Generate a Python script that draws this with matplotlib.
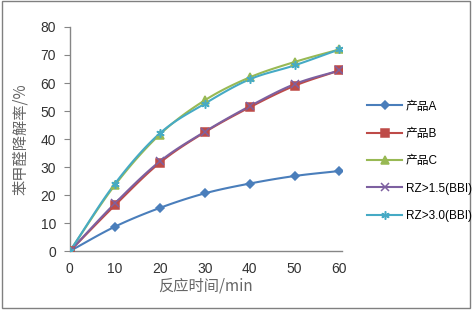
import numpy as np
import matplotlib
matplotlib.use("Agg")
import matplotlib.pyplot as plt
from matplotlib.lines import Line2D

plt.rcParams['font.family'] = ['Noto Sans CJK SC', 'DejaVu Sans']

# data
time_min = [0, 10, 20, 30, 40, 50, 60]
prod_a = [0, 8.7, 15.4, 20.6, 24.1, 26.8, 28.6]
prod_b = [0, 16.3, 31.5, 42.4, 51.3, 59.0, 64.5]
prod_c = [0, 23.5, 41.6, 53.8, 62.0, 67.5, 72.0]
rz15 = [0, 17.0, 32.0, 42.6, 51.7, 59.6, 64.5]
rz30 = [0, 24.0, 42.0, 52.6, 61.3, 66.3, 72.0]

labels = ['产品A', '产品B', '产品C', 'RZ>1.5(BBI)', 'RZ>3.0(BBI)']
colors = ['#4A7EBB', '#BE4B48', '#98B954', '#7D60A0', '#46AAC5']
markers = ['D', 's', '^', 'x', (6, 2, 0)]
msizes = [4.5, 6, 6, 6, 6]


def smooth(x, y, n=20):
    # Catmull-Rom style smoothing, like Excel's smoothed line
    x = np.asarray(x, float)
    y = np.asarray(y, float)
    px = np.concatenate([[2 * x[0] - x[1]], x, [2 * x[-1] - x[-2]]])
    py = np.concatenate([[2 * y[0] - y[1]], y, [2 * y[-1] - y[-2]]])
    xs, ys = [], []
    t = np.linspace(0, 1, n)
    for i in range(1, len(px) - 2):
        p0, p1, p2, p3 = [np.array([px[j], py[j]]) for j in range(i - 1, i + 3)]
        for tt in t:
            pt = 0.5 * ((2 * p1) + (-p0 + p2) * tt + (2 * p0 - 5 * p1 + 4 * p2 - p3) * tt ** 2
                        + (-p0 + 3 * p1 - 3 * p2 + p3) * tt ** 3)
            xs.append(pt[0])
            ys.append(pt[1])
    return xs, ys


fig = plt.figure(figsize=(4.72, 3.10), dpi=100)
ax = fig.add_axes([0.148, 0.19, 0.576, 0.723])

series = [prod_a, prod_b, prod_c, rz15, rz30]
handles = []
for vals, lab, c, m, ms in zip(series, labels, colors, markers, msizes):
    sx, sy = smooth(time_min, vals)
    ax.plot(sx, sy, color=c, lw=1.5, zorder=2)
    ax.plot(time_min, vals, ls='none', marker=m, ms=ms, color=c, mec=c, mew=1.1, zorder=3)
    handles.append(Line2D([], [], color=c, lw=1.5, marker=m, ms=ms, mec=c, mew=1.1))

ax.set_xlim(0, 60.5)
ax.set_ylim(0, 80)
ax.set_xticks(time_min)
ax.set_yticks(range(0, 81, 10))
for s in ['top', 'right']:
    ax.spines[s].set_visible(False)
for s in ['left', 'bottom']:
    ax.spines[s].set_color('#868686')
    ax.spines[s].set_linewidth(1.0)
ax.tick_params(axis='y', length=4, color='#868686', labelsize=10, pad=6)
ax.tick_params(axis='x', length=0, labelsize=10, pad=8)
for t in ax.get_xticklabels() + ax.get_yticklabels():
    t.set_family(['Liberation Sans', 'DejaVu Sans'])
    t.set_color('#333333')

ax.set_xlabel('反应时间/min', fontsize=11, color='#666666', labelpad=1)
ax.set_ylabel('苯甲醛降解率/%', fontsize=11, color='#666666', labelpad=8)

fig.legend(handles, labels, loc='upper left', bbox_to_anchor=(0.755, 0.71), frameon=False,
           handlelength=3.0, labelspacing=1.3, handletextpad=0.3,
           prop={'family': ['Liberation Sans', 'Noto Sans CJK SC'], 'size': 8.5})

fig.patches.append(plt.Rectangle((0.004, 0.006), 0.992, 0.99, transform=fig.transFigure,
                                 fill=False, ec='#808080', lw=1.0))

fig.savefig('out.png', dpi=100)
